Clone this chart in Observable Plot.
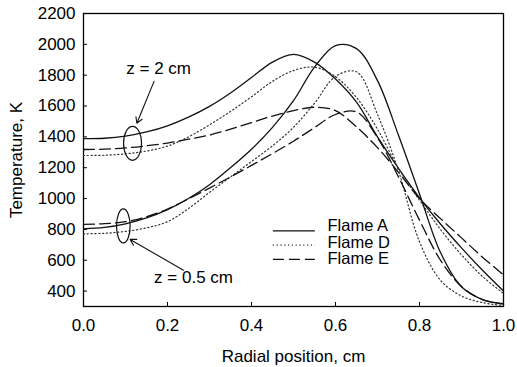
<!DOCTYPE html>
<html>
<head>
<meta charset="utf-8">
<script src="https://cdn.jsdelivr.net/npm/d3@7"></script>
<script src="https://cdn.jsdelivr.net/npm/@observablehq/plot@0.6"></script>
<style>
  html, body { margin: 0; padding: 0; background: #fff; }
  #chart svg { display: block; }
</style>
</head>
<body>
<div id="chart"></div>
<script>
// Radial positions (cm) at which the curves were read
const radial = [0, 0.05, 0.1, 0.15, 0.2, 0.25, 0.3, 0.35, 0.4, 0.45, 0.5, 0.55, 0.6, 0.65, 0.7, 0.75, 0.8, 0.85, 0.9, 0.95, 1.0];

// Temperatures (K), z = 2 cm
const flameA_z2   = [1388, 1391, 1405, 1432, 1472, 1528, 1598, 1685, 1785, 1885, 1935, 1885, 1775, 1625, 1400, 1195, 1005, 835, 680, 535, 400];
const flameD_z2   = [1279, 1281, 1290, 1308, 1340, 1400, 1478, 1565, 1660, 1760, 1830, 1852, 1790, 1655, 1450, 1195, 990, 800, 635, 495, 385];
const flameE_z2   = [1318, 1320, 1328, 1342, 1360, 1385, 1412, 1450, 1492, 1535, 1570, 1592, 1570, 1465, 1330, 1170, 1000, 870, 745, 620, 505];

// Temperatures (K), z = 0.5 cm
const flameA_z05  = [804, 813, 836, 874, 928, 1000, 1090, 1200, 1320, 1462, 1635, 1852, 1992, 1972, 1765, 1410, 1030, 650, 428, 345, 318];
const flameD_z05  = [771, 775, 787, 810, 850, 935, 1040, 1140, 1240, 1342, 1462, 1618, 1792, 1822, 1545, 1180, 720, 470, 368, 325, 306];
const flameE_z05  = [832, 837, 850, 882, 932, 998, 1068, 1140, 1215, 1292, 1372, 1460, 1545, 1562, 1395, 1140, 860, 600, 430, 345, 315];

// Axis ticks
const xTicks = [0, 0.2, 0.4, 0.6, 0.8, 1.0];
const yTicks = [400, 600, 800, 1000, 1200, 1400, 1600, 1800, 2000, 2200];

// Legend entries (position in data units)
const legendNames = ["Flame A", "Flame D", "Flame E"];
const legendLineT = [790, 698, 606];
const legendTextT = [822, 716, 610];
const legendX = [0.452, 0.552, 0.581];

// Annotations (data units)
const labelTexts = ["z = 2 cm", "z = 0.5 cm"];
const labelR = [0.179, 0.262];
const labelT = [1843, 488];
const ellipseR = [0.118, 0.096];
const ellipseT = [1355, 819];
const ellipseRX = [9, 6.8];   // px radii
const ellipseRY = [17, 17];
const arrowFromR = [0.168, 0.238];
const arrowFromT = [1760, 535];
const arrowToR = [0.127, 0.111];
const arrowToT = [1488, 735];

const toRows = (vals) => radial.map((r, i) => ({r, T: vals[i]}));

const labels = labelTexts.map((t, i) => ({text: t, r: labelR[i], T: labelT[i]}));
const arrows = arrowFromR.map((r, i) => ({r1: r, T1: arrowFromT[i], r2: arrowToR[i], T2: arrowToT[i]}));
const ellipses = ellipseR.map((r, i) => ({r, T: ellipseT[i], rx: ellipseRX[i], ry: ellipseRY[i]}));
const legend = legendNames.map((n, i) => ({name: n, yl: legendLineT[i], yt: legendTextT[i]}));

const solid = {stroke: "#111", strokeWidth: 1.3};
const dotted = {stroke: "#333", strokeWidth: 1.2, strokeDasharray: "1.2,2.6"};
const dashed = {stroke: "#111", strokeWidth: 1.3, strokeDasharray: "11,5"};
const curve = "catmull-rom";

const ellipseMark = (index, scales) => {
  const g = d3.create("svg:g");
  for (const e of ellipses) {
    g.append("ellipse")
      .attr("cx", scales.x(e.r)).attr("cy", scales.y(e.T))
      .attr("rx", e.rx).attr("ry", e.ry)
      .attr("fill", "none").attr("stroke", "#111").attr("stroke-width", 1.2);
  }
  return g.node();
};

const chart = Plot.plot({
  width: 517,
  height: 367,
  marginLeft: 83,
  marginRight: 14,
  marginTop: 13,
  marginBottom: 61,
  style: {fontFamily: "'Liberation Sans', Arial, sans-serif", fontSize: "17px", color: "#000", background: "#fff"},
  x: {domain: [0, 1]},
  y: {domain: [300, 2200]},
  marks: [
    Plot.axisX({ticks: xTicks, tickFormat: d3.format(".1f"), tickSize: -4, tickPadding: 16, label: "Radial position, cm", labelAnchor: "center", labelOffset: 55, labelArrow: "none", fontSize: 17}),
    Plot.axisY({ticks: yTicks, tickFormat: d => String(d), tickSize: -4, tickPadding: 12, label: "Temperature, K", labelAnchor: "center", labelOffset: 74, labelArrow: "none", fontSize: 17}),
    Plot.frame({stroke: "#000", strokeWidth: 1.3}),
    Plot.line(toRows(flameA_z2), {x: "r", y: "T", curve, ...solid}),
    Plot.line(toRows(flameD_z2), {x: "r", y: "T", curve, ...dotted}),
    Plot.line(toRows(flameE_z2), {x: "r", y: "T", curve, ...dashed}),
    Plot.line(toRows(flameA_z05), {x: "r", y: "T", curve, ...solid}),
    Plot.line(toRows(flameD_z05), {x: "r", y: "T", curve, ...dotted}),
    Plot.line(toRows(flameE_z05), {x: "r", y: "T", curve, ...dashed}),
    ellipseMark,
    Plot.arrow(arrows, {x1: "r1", y1: "T1", x2: "r2", y2: "T2", stroke: "#111", strokeWidth: 1.1, headLength: 9}),
    Plot.text(labels, {x: "r", y: "T", text: "text", textAnchor: "middle", fontSize: 17, fill: "#000"}),
    Plot.ruleY([legend[0]], {y: "yl", x1: legendX[0], x2: legendX[1], ...solid}),
    Plot.ruleY([legend[1]], {y: "yl", x1: legendX[0], x2: legendX[1], ...dotted}),
    Plot.ruleY([legend[2]], {y: "yl", x1: legendX[0], x2: legendX[1], ...dashed}),
    Plot.text(legend, {x: legendX[2], y: "yt", text: "name", textAnchor: "start", fontSize: 16.5, fill: "#000"})
  ]
});
document.getElementById("chart").appendChild(chart);
</script>
</body>
</html>
